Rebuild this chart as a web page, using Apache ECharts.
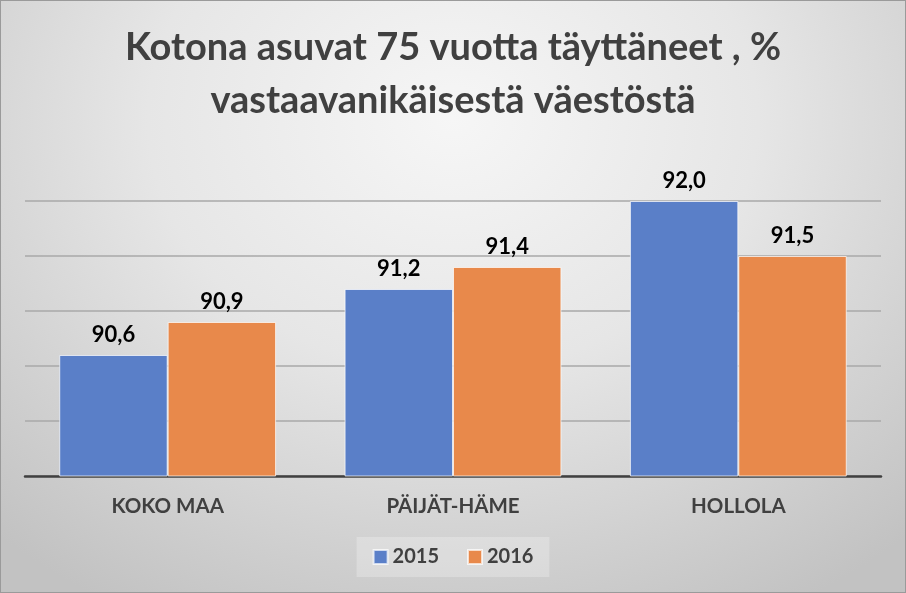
<!DOCTYPE html>
<html>
<head>
<meta charset="utf-8">
<script src="https://cdn.jsdelivr.net/npm/echarts@6/dist/echarts.min.js"></script>
<style>
html,body{margin:0;padding:0;}
#c{width:906px;height:593px;box-sizing:border-box;border:1px solid #9a9a9a;
background:radial-gradient(ellipse 75% 95% at 50% 20%, #f6f6f6 0%, #e6e6e6 45%, #cfcfcf 80%, #c2c2c2 100%);}
</style>
</head>
<body>
<div id="c"></div>
<script>
const titleText = 'Kotona asuvat 75 vuotta täyttäneet , %\nvastaavanikäisestä väestöstä';
const categories = ['KOKO MAA', 'PÄIJÄT-HÄME', 'HOLLOLA'];
const seriesNames = ['2015', '2016'];
const values2015 = [90.6, 91.2, 92.0];
const values2016 = [90.9, 91.4, 91.5];
const colors = ['#5a7fc8', '#e8894b'];

const chart = echarts.init(document.getElementById('c'), null, {renderer:'canvas'});
const fmt = p => p.value.toFixed(1).replace('.', ',');
const mk = (name, data, color) => ({
  name, type:'bar', data,
  barGap:'0%', barCategoryGap:'24%',
  itemStyle:{color, borderColor:'rgba(255,255,255,0.7)', borderWidth:1},
  label:{show:true, position:'top', distance:9, formatter:fmt,
    fontFamily:'Lato', fontWeight:'bold', fontSize:22, color:'#000'}
});
chart.setOption({
  backgroundColor:'transparent',
  animation:false,
  title:{text:titleText, left:'center', top:15,
    textStyle:{fontFamily:'Lato', fontWeight:'bold', fontSize:38, color:'#404040', lineHeight:53}},
  legend:{data:seriesNames, bottom:15, left:'center', itemWidth:14, itemHeight:14, itemGap:28,
    icon:'rect', backgroundColor:'rgba(255,255,255,0.25)', padding:[10,16,10,16],
    textStyle:{fontFamily:'Lato', fontWeight:'bold', fontSize:20, color:'#404040'}},
  grid:{left:24, right:24, top:200, bottom:116, containLabel:false},
  xAxis:{type:'category', data:categories,
    axisLine:{lineStyle:{color:'#404040', width:2.5}},
    axisTick:{show:false},
    axisLabel:{margin:20, fontFamily:'Lato', fontWeight:'bold', fontSize:20.5, color:'#404040'}},
  yAxis:{type:'value', min:89.5, max:92, interval:0.5,
    axisLabel:{show:false}, axisLine:{show:false}, axisTick:{show:false},
    splitLine:{lineStyle:{color:'#a8a8a8', width:1.5}}},
  series:[mk(seriesNames[0], values2015, colors[0]), mk(seriesNames[1], values2016, colors[1])]
});
</script>
</body>
</html>
